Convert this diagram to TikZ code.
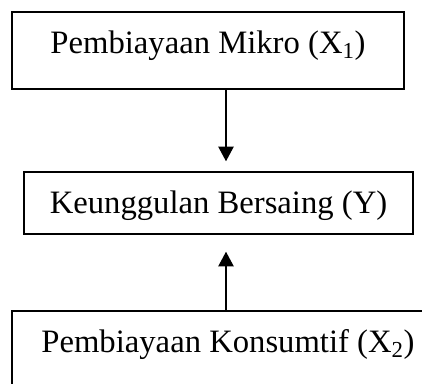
\documentclass[tikz,border=0pt]{standalone}
\usepackage{fontspec}
\setmainfont{Liberation Serif}
\usetikzlibrary{arrows.meta}
\begin{document}
\begin{tikzpicture}[x=0.75pt,y=-0.75pt,
  box/.style={draw,line width=1.1pt,inner sep=0pt,text height=16.2pt,text depth=11.2pt,font=\fontsize{24.5}{29}\selectfont},
  arr/.style={line width=1.1pt,-{Triangle[length=11pt,width=11.5pt]}}]
\useasboundingbox (0,0) rectangle (422,383);
\node[box,minimum width=294pt,minimum height=57.75pt] (mikro) at (208,50.5) {Pembiayaan Mikro (X\textsubscript{1})};
\node[box,minimum width=291.75pt,minimum height=46.5pt,text depth=0pt] (keung) at (218.5,203) {Keunggulan Bersaing (Y)};
\node[box,minimum width=324pt,minimum height=57.75pt] (konsum) at (228,349.5) {Pembiayaan Konsumtif (X\textsubscript{2})};
\coordinate (m) at ([xshift=13.5pt]mikro.south);
\draw[arr,shorten >=7.5pt] (m) -- (m |- keung.north);
\draw[arr,shorten >=12.75pt] (konsum.north -| m) -- (keung.south -| m);
\end{tikzpicture}
\end{document}
